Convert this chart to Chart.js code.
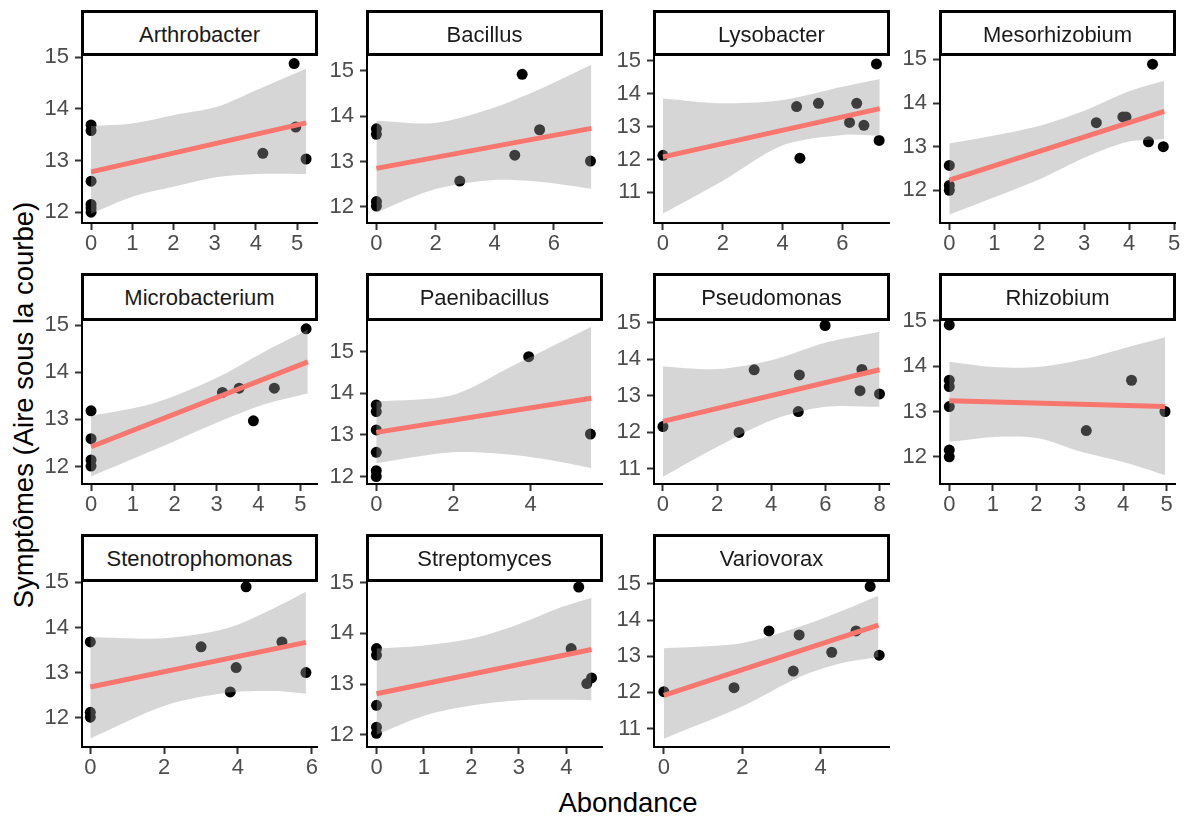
<!DOCTYPE html>
<html lang="fr">
<head>
<meta charset="utf-8">
<title>Symptômes selon l'abondance</title>
<script src="https://cdn.jsdelivr.net/npm/chart.js@4.4.1/dist/chart.umd.min.js"></script>
<style>
  body { margin: 0; background: #fff; font-family: "Liberation Sans", Arial, sans-serif; }
  #figure { position: relative; width: 1185px; height: 819px; overflow: hidden; background: #fff; }
  .panneau { position: absolute; }
  .bandeau {
    position: absolute; box-sizing: border-box; border: 3px solid #000; background: #fff;
    text-align: center; font-size: 22px; color: #1a1a1a; z-index: 2;
    padding-top: 5px; line-height: 34px; white-space: nowrap;
  }
  .titre-x {
    position: absolute; left: 478px; width: 300px; top: 788px; height: 30px;
    line-height: 30px; text-align: center; font-size: 27.5px; color: #000;
  }
  .titre-y {
    position: absolute; left: 23.5px; top: 405px; line-height: 30px; font-size: 27.5px;
    color: #000; white-space: nowrap; transform: translate(-50%, -50%) rotate(-90deg);
  }
</style>
</head>
<body>
<div id="figure">
  <div class="titre-y">Symptômes (Aire sous la courbe)</div>
  <div class="titre-x">Abondance</div>
</div>
<script>
// Genres (un panneau par genre)
const genres = ["Arthrobacter", "Bacillus", "Lysobacter", "Mesorhizobium",
  "Microbacterium", "Paenibacillus", "Pseudomonas", "Rhizobium",
  "Stenotrophomonas", "Streptomyces", "Variovorax"];

// Abondance de chaque échantillon (axe x)
const abondance = [
  [0, 0, 0, 0, 0, 0, 4.17, 4.93, 4.97, 5.22],
  [0, 0, 0, 0, 2.82, 4.68, 4.93, 5.52, 7.24],
  [0, 4.47, 4.58, 5.2, 6.24, 6.48, 6.72, 7.14, 7.23],
  [0, 0, 0, 3.27, 3.86, 3.93, 4.43, 4.52, 4.76],
  [0, 0, 0, 0, 3.14, 3.54, 3.88, 4.38, 5.14],
  [0, 0, 0, 0, 0, 0, 3.95, 5.55],
  [0, 2.81, 3.37, 5.0, 5.04, 5.99, 7.28, 7.35, 8.0],
  [0, 0, 0, 0, 0, 0, 3.15, 4.19, 4.96],
  [0, 0, 0, 3.0, 3.79, 3.95, 4.22, 5.19, 5.84],
  [0, 0, 0, 0, 0, 4.1, 4.26, 4.43, 4.53],
  [0, 1.79, 2.68, 3.3, 3.45, 4.28, 4.9, 5.26, 5.49]
];

// Symptômes (aire sous la courbe, axe y)
const symptomes = [
  [13.69, 13.58, 12.6, 12.15, 12.08, 12.0, 13.14, 14.88, 13.65, 13.03],
  [13.72, 13.6, 12.12, 12.02, 12.57, 13.14, 14.92, 13.7, 13.01],
  [12.13, 13.61, 12.04, 13.71, 13.13, 13.71, 13.04, 14.91, 12.58],
  [12.57, 12.11, 12.0, 13.55, 13.68, 13.68, 13.11, 14.89, 13.0],
  [13.18, 12.59, 12.14, 12.01, 13.57, 13.66, 12.97, 13.66, 14.92],
  [13.72, 13.56, 13.12, 12.58, 12.14, 12.0, 14.88, 13.02],
  [12.16, 12.0, 13.71, 12.57, 13.57, 14.92, 13.14, 13.72, 13.05],
  [14.91, 13.69, 13.55, 13.11, 12.15, 12.0, 12.58, 13.69, 13.0],
  [13.68, 12.12, 12.01, 13.57, 12.57, 13.11, 14.9, 13.68, 13.0],
  [13.7, 13.57, 12.58, 12.15, 12.03, 13.7, 14.91, 13.01, 13.12],
  [12.02, 12.13, 13.7, 12.59, 13.59, 13.11, 13.7, 14.93, 13.03]
];

// Droite de régression (extrémités)
const droiteX = [[0, 5.22], [0, 7.27], [0, 7.25], [0, 4.78], [0, 5.18], [0, 5.57],
  [0, 8.0], [0, 4.96], [0, 5.84], [0, 4.53], [0, 5.47]];
const droiteY = [[12.78, 13.73], [12.85, 13.73], [12.08, 13.55], [12.23, 13.81],
  [12.42, 14.22], [13.06, 13.88], [12.3, 13.71], [13.24, 13.11], [12.68, 13.67],
  [12.81, 13.68], [11.92, 13.86]];

// Intervalle de confiance (bornes)
const bandeX = [
  [0, 1, 2.0, 3.06, 4.03, 5.22],
  [0, 1.97, 3.89, 5.58, 7.27],
  [0, 2.05, 4.02, 6.03, 7.25],
  [0, 1.03, 2.05, 3.04, 3.97, 4.78],
  [0, 1.5, 2.98, 4.22, 5.18],
  [0, 1.99, 3.5, 4.71, 5.57],
  [0, 2.01, 4.04, 5.99, 8.0],
  [0, 1.05, 2.04, 3.03, 4.1, 4.96],
  [0, 2.03, 3.7, 4.96, 5.84],
  [0, 1.02, 2.03, 3.02, 3.82, 4.53],
  [0, 1.98, 3.47, 4.49, 5.47]
];
const bandeHaut = [
  [13.67, 13.72, 13.88, 14.04, 14.37, 14.78],
  [13.9, 13.85, 14.17, 14.61, 15.13],
  [13.86, 13.71, 13.81, 14.22, 14.45],
  [13.07, 13.26, 13.49, 13.84, 14.26, 14.51],
  [13.07, 13.34, 13.87, 14.47, 14.9],
  [13.8, 13.96, 14.64, 15.2, 15.6],
  [13.8, 13.73, 13.98, 14.45, 14.75],
  [14.1, 13.98, 13.98, 14.14, 14.42, 14.64],
  [13.79, 13.76, 13.98, 14.42, 14.79],
  [13.7, 13.76, 13.9, 14.19, 14.49, 14.7],
  [13.22, 13.36, 13.82, 14.23, 14.67]
];
const bandeBas = [
  [11.97, 12.3, 12.49, 12.68, 12.74, 12.74],
  [11.88, 12.39, 12.59, 12.55, 12.4],
  [10.36, 11.38, 12.44, 12.75, 12.72],
  [11.44, 11.85, 12.27, 12.76, 13.11, 13.17],
  [11.79, 12.35, 12.92, 13.34, 13.55],
  [12.32, 12.58, 12.52, 12.36, 12.2],
  [10.79, 11.61, 12.34, 12.7, 12.7],
  [12.33, 12.44, 12.41, 12.11, 11.86, 11.6],
  [11.54, 12.27, 12.55, 12.59, 12.53],
  [12.0, 12.38, 12.58, 12.68, 12.69, 12.68],
  [10.72, 11.6, 12.43, 12.8, 12.98]
];

// Graduations et limites des axes (échelles libres)
const ticksX = [[0, 1, 2, 3, 4, 5], [0, 2, 4, 6], [0, 2, 4, 6], [0, 1, 2, 3, 4, 5],
  [0, 1, 2, 3, 4, 5], [0, 2, 4], [0, 2, 4, 6, 8], [0, 1, 2, 3, 4, 5],
  [0, 2, 4, 6], [0, 1, 2, 3, 4], [0, 2, 4]];
const ticksY = [[12, 13, 14, 15], [12, 13, 14, 15], [11, 12, 13, 14, 15], [12, 13, 14, 15],
  [12, 13, 14, 15], [12, 13, 14, 15], [11, 12, 13, 14, 15], [12, 13, 14, 15],
  [12, 13, 14, 15], [12, 13, 14, 15], [11, 12, 13, 14, 15]];
const limitesX = [[-0.22, 5.485], [-0.318, 7.63], [-0.3, 7.56], [-0.207, 5.02],
  [-0.216, 5.4], [-0.24, 5.85], [-0.33, 8.35], [-0.213, 5.19],
  [-0.225, 6.14], [-0.2, 4.75], [-0.25, 5.74]];
const limitesY = [[11.79, 15.045], [11.647, 15.346], [10.07, 15.18], [11.25, 15.1],
  [11.63, 15.106], [11.82, 15.76], [10.59, 15.07], [11.4, 15.02],
  [11.35, 15.03], [11.76, 15.03], [10.49, 15.08]];

// Mise en page (pixels)
const colGauche = [82, 367, 654, 940];
const colDroite = [317, 602, 889, 1175];
const ligneBandeau = [10, 273, 534];
const ligneHaut = [55, 320, 581];
const ligneBas = [223, 484, 747];
const LARG_Y = 70, HAUT_X = 45, MARGE_HAUT = 26, MARGE_DROITE = 15;

const POLICE = "'Liberation Sans', Arial, sans-serif";
const figure = document.getElementById("figure");

function enPoints(xs, ys) {
  return xs.map((x, k) => ({ x: x, y: ys[k] }));
}

function axe(lim, ticks, horizontal) {
  return {
    type: "linear",
    min: lim[0],
    max: lim[1],
    afterFit: s => { if (horizontal) s.height = HAUT_X; else s.width = LARG_Y; },
    afterBuildTicks: s => { s.ticks = ticks.map(v => ({ value: v })); },
    grid: { drawOnChartArea: false, drawTicks: true, tickLength: 7, tickColor: "#333333", tickWidth: 2 },
    border: { display: true, color: "#000", width: 2 },
    ticks: {
      color: "#4d4d4d", font: { family: POLICE, size: 22 },
      padding: horizontal ? 1 : 6, autoSkip: false, maxRotation: 0
    }
  };
}

function creerPanneau(i) {
  const col = i % 4, lig = Math.floor(i / 4);
  const L = colGauche[col], R = colDroite[col], T = ligneHaut[lig], B = ligneBas[lig];

  const boite = document.createElement("div");
  boite.className = "panneau";
  boite.style.left = (L - LARG_Y) + "px";
  boite.style.top = (T - MARGE_HAUT) + "px";
  const canvas = document.createElement("canvas");
  canvas.width = R - L + LARG_Y + MARGE_DROITE;
  canvas.height = B - T + MARGE_HAUT + HAUT_X;
  boite.appendChild(canvas);
  figure.appendChild(boite);

  const bandeau = document.createElement("div");
  bandeau.className = "bandeau";
  bandeau.style.left = (L - 1) + "px";
  bandeau.style.width = (R - L + 2) + "px";
  bandeau.style.top = ligneBandeau[lig] + "px";
  bandeau.style.height = (T - ligneBandeau[lig] + 1) + "px";
  bandeau.textContent = genres[i];
  figure.appendChild(bandeau);

  new Chart(canvas, {
    type: "scatter",
    data: {
      datasets: [
        {
          data: enPoints(droiteX[i], droiteY[i]), showLine: true,
          borderColor: "#F8766D", borderWidth: 5, pointRadius: 0, order: 0
        },
        {
          data: enPoints(bandeX[i], bandeHaut[i]), showLine: true, tension: 0.3,
          borderColor: "transparent", borderWidth: 0, pointRadius: 0,
          fill: "+1", backgroundColor: "rgba(153,153,153,0.4)", order: 1
        },
        {
          data: enPoints(bandeX[i], bandeBas[i]), showLine: true, tension: 0.3,
          borderColor: "transparent", borderWidth: 0, pointRadius: 0, fill: false, order: 2
        },
        {
          data: enPoints(abondance[i], symptomes[i]),
          pointRadius: 5.5, pointBackgroundColor: "#000", pointBorderWidth: 0, order: 3
        }
      ]
    },
    options: {
      responsive: false,
      animation: false,
      events: [],
      layout: { padding: { top: MARGE_HAUT, right: MARGE_DROITE, left: 0, bottom: 0 } },
      plugins: { legend: { display: false }, tooltip: { enabled: false } },
      scales: {
        x: axe(limitesX[i], ticksX[i], true),
        y: axe(limitesY[i], ticksY[i], false)
      }
    }
  });
}

genres.forEach((g, i) => creerPanneau(i));
</script>
</body>
</html>
